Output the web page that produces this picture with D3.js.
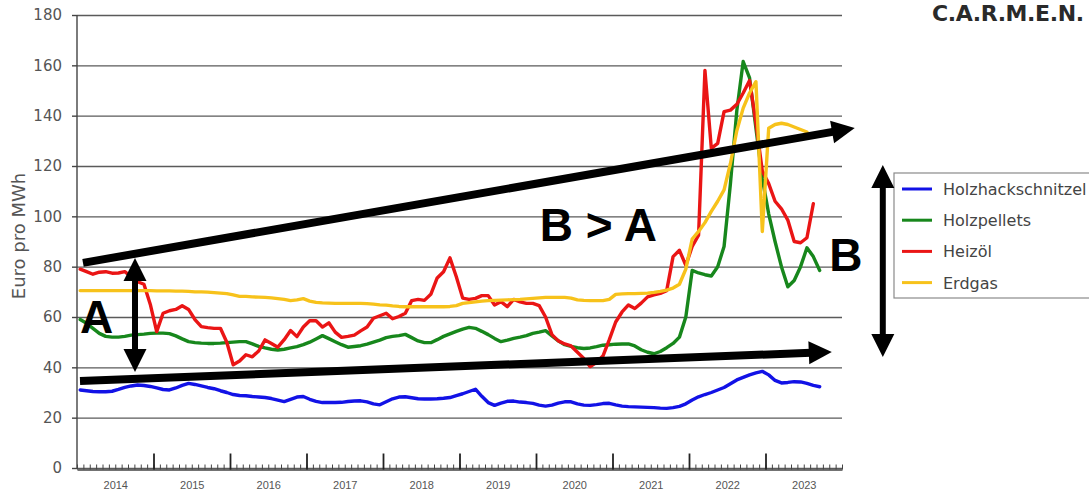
<!DOCTYPE html>
<html>
<head>
<meta charset="utf-8">
<script src="https://cdn.jsdelivr.net/npm/d3@7"></script>
<style>
  body { margin: 0; background: #fff; }
  svg { display: block; font-family: "DejaVu Sans", sans-serif; }
</style>
</head>
<body>
<svg id="chart" width="1089" height="491"></svg>
<script>
// monthly prices in Euro pro MWh, first value = Jan 2014
const hackschnitzel = [31,30.7,30.4,30.3,30.3,30.5,31.2,32,32.6,33,
  32.8,32.4,31.8,31.2,31,31.8,32.8,33.6,33.2,32.6,
  32,31.5,30.7,30,29.2,28.8,28.7,28.4,28.2,28,
  27.6,27,26.4,27.3,28.2,28.4,27.3,26.5,26,26,
  26,26.1,26.4,26.6,26.7,26.3,25.5,25.1,26.3,27.5,
  28.2,28.3,27.9,27.5,27.4,27.4,27.5,27.7,28,28.8,
  29.5,30.4,31.3,28.5,26,24.9,25.8,26.5,26.6,26.2,
  26,25.7,25,24.6,25,25.8,26.3,26.3,25.5,25,
  24.9,25.2,25.6,25.7,25.1,24.6,24.4,24.3,24.2,24.1,
  24,23.8,23.7,24,24.5,25.5,27,28.3,29.2,30,
  31,32,33.5,35,36,37,37.8,38.4,37,34.8,
  33.8,34,34.3,34.2,33.6,32.8,32.3];
const pellets = [59,57.5,55.5,53.5,52.3,52,52,52.3,52.8,53,
  53.2,53.5,53.6,53.6,53.4,52.5,51.3,50.2,49.8,49.6,
  49.5,49.5,49.6,49.8,50,50.2,50.2,49.3,48.3,47.7,
  47.2,46.9,47.2,47.7,48.2,49,50,51.3,52.6,51.4,
  50.2,49,48,48.3,48.6,49.2,50,50.8,51.8,52.3,
  52.6,53.1,51.8,50.5,49.8,49.8,51,52.3,53.3,54.3,
  55.2,55.9,55.5,54.3,53,51.5,50.2,50.8,51.5,52,
  52.6,53.5,54,54.6,52.5,50.5,49,48.3,47.8,47.5,
  47.7,48.2,48.8,49,49.2,49.3,49.3,48.5,47,46,
  45.4,46.3,47.8,49.5,52,60,78.5,77.5,76.8,76.3,
  80,88,113,142,161.5,155,135,115,101,90,
  80,72,74.5,80,87.5,84,78.5];
const heizoel = [79,78,77,77.8,78,77.4,77.5,78,76,74,
  73,65,54.2,61.5,62.5,63,64.5,63,59,56.2,
  55.8,55.5,55.5,50,41,42.5,45,44.2,46.5,50.9,
  49.5,48,51,54.6,52.2,56,58.5,58.5,56,57.7,
  54,51.9,52.3,52.8,54.5,56,59.5,60.5,61.5,59.3,
  60.2,61.5,66.5,67,66.6,69,75.5,78,83.5,76,
  67.5,67,67.4,68.5,68.5,64.8,66.1,64.1,67,66,
  65.4,65.4,64.5,60,53,50.5,49.3,48.5,46,43.5,
  40.3,42,44.5,51,58,62,64.8,63.4,65.5,68,
  68.8,69.4,70.5,84,86.5,80.5,88,92.5,158,127,
  129,141.6,142.2,144.5,149,154,137,118,113,106,
  103,98.5,90,89.5,91.5,105];
const erdgas = [70.5,70.5,70.5,70.5,70.5,70.5,70.5,70.5,70.5,70.5,
  70.5,70.5,70.4,70.4,70.4,70.3,70.3,70.2,70,70,
  69.9,69.7,69.5,69.3,68.8,68.2,68.2,68,67.9,67.8,
  67.6,67.3,67,66.5,66.8,67.3,66.3,65.8,65.6,65.5,
  65.4,65.4,65.4,65.4,65.4,65.3,65.1,64.8,64.7,64.4,
  64.2,64.1,64.1,64.1,64.1,64.1,64.1,64.1,64.2,64.5,
  65.4,65.7,66,66.3,66.5,66.6,66.7,66.8,66.9,67,
  67.2,67.4,67.6,67.8,67.8,67.8,67.8,67.5,66.8,66.6,
  66.5,66.5,66.5,67,69,69.2,69.3,69.3,69.4,69.5,
  69.8,70.2,70.7,71.5,73,79,91,94,97.5,102,
  106,110.5,121,134,143,149,153.5,94,135,136.5,
  137,136.5,135.5,134.5,133.5];

const seriesNames = ["Holzhackschnitzel", "Holzpellets", "Heizöl", "Erdgas"];
const seriesColors = ["#1212e6", "#17871c", "#ea1515", "#f7c21b"];
const years = d3.range(2014, 2024);
const yTicks = d3.range(0, 181, 20);

// annotations, in (month index, Euro pro MWh)
const trendLines = [
  { from: [0.94, 81.5], to: [122.0, 135.1] },
  { from: [0.47, 34.6], to: [118.4, 46.1] }
];
const spanArrows = [
  { m: 9.1, top: 83.4, bottom: 38.1 },
  { m: 126.4, top: 120.4, bottom: 44.1 }
];
const notes = [
  { text: "A", m: 0.47, v: 53.6 },
  { text: "B > A", m: 72.6, v: 90.2 },
  { text: "B", m: 118, v: 78.3 }
];

const svg = d3.select("#chart");
const x = d3.scaleLinear().domain([0, 120]).range([77, 842]);
const y = d3.scaleLinear().domain([0, 180]).range([468, 15]);

// grid
const grid = svg.append("g").attr("transform", "translate(77,0)")
  .call(d3.axisLeft(y).tickValues(yTicks).tickSizeInner(-765).tickSizeOuter(0).tickFormat(""));
grid.select(".domain").remove();
grid.selectAll("line").attr("stroke", "#5a5a5a").attr("stroke-width", 1.4);

// y axis with labels
const yAx = svg.append("g").attr("transform", "translate(77,0)")
  .call(d3.axisLeft(y).tickValues(yTicks).tickSizeInner(5).tickSizeOuter(0).tickPadding(10));
yAx.select(".domain").attr("stroke", "#444").attr("stroke-width", 1.4).attr("d", "M0,15V469");
yAx.selectAll("line").attr("stroke", "#444").attr("stroke-width", 1.4);
yAx.selectAll("text").attr("fill", "#555").style("font-size", "15px")
  .style("font-family", "'DejaVu Sans', sans-serif");

svg.append("text")
  .attr("transform", "translate(25,236) rotate(-90)")
  .attr("text-anchor", "middle")
  .attr("fill", "#555")
  .style("font-size", "18px")
  .text("Euro pro MWh");

// x axis: monthly minor ticks, yearly major ticks, year labels in the middle
const xMinor = svg.append("g").attr("transform", "translate(0,469.5)")
  .call(d3.axisBottom(x).tickValues(d3.range(0, 121)).tickSizeInner(-5).tickSizeOuter(0).tickFormat(""));
xMinor.select(".domain").attr("stroke", "#444").attr("stroke-width", 1.4);
xMinor.selectAll("line").attr("stroke", "#444").attr("stroke-width", 1);

const xMajor = svg.append("g").attr("transform", "translate(0,469.5)")
  .call(d3.axisBottom(x).tickValues(d3.range(12, 120, 12)).tickSizeInner(-16).tickSizeOuter(0).tickFormat(""));
xMajor.select(".domain").remove();
xMajor.selectAll("line").attr("stroke", "#222").attr("stroke-width", 1.8);

const xLab = svg.append("g").attr("transform", "translate(0,469.5)")
  .call(d3.axisBottom(x).tickValues(years.map((yr, i) => i * 12 + 6))
    .tickSize(0).tickPadding(12).tickFormat((d, i) => years[i]));
xLab.select(".domain").remove();
xLab.selectAll("text").attr("fill", "#555").style("font-size", "11px")
  .style("font-family", "'Liberation Sans', sans-serif");

// series
const allSeries = [hackschnitzel, pellets, heizoel, erdgas];
const line = d3.line().x((d, i) => x(i + 0.5)).y(d => y(d));
allSeries.forEach((vals, k) => {
  svg.append("path")
    .attr("d", line(vals))
    .attr("fill", "none")
    .attr("stroke", seriesColors[k])
    .attr("stroke-width", 3.4)
    .attr("stroke-linejoin", "round")
    .attr("stroke-linecap", "round");
});

// legend
const lg = svg.append("g");
lg.append("rect").attr("x", 894).attr("y", 173).attr("width", 210).attr("height", 125)
  .attr("fill", "#fff").attr("stroke", "#8a8a8a").attr("stroke-width", 1.2);
seriesNames.forEach((name, k) => {
  const ry = 189 + k * 31.2;
  lg.append("line").attr("x1", 902).attr("x2", 932).attr("y1", ry).attr("y2", ry)
    .attr("stroke", seriesColors[k]).attr("stroke-width", 3);
  lg.append("text").attr("x", 943).attr("y", ry + 6).attr("fill", "#444")
    .style("font-size", "16px").text(name);
});

// logo
svg.append("text").attr("x", 932).attr("y", 21).attr("fill", "#2a2a2a")
  .style("font-size", "22px").style("font-weight", "bold")
  .style("letter-spacing", "-0.4px").text("C.A.R.M.E.N.");

// annotations
const ann = svg.append("g");
function head(tip, dir, len, half) {
  const bx = tip[0] - dir[0] * len, by = tip[1] - dir[1] * len;
  const nx = -dir[1], ny = dir[0];
  return [[tip[0], tip[1]], [bx + nx * half, by + ny * half], [bx - nx * half, by - ny * half]];
}
function arrow(p0, p1, w, both) {
  const dx = p1[0] - p0[0], dy = p1[1] - p0[1];
  const L = Math.hypot(dx, dy);
  const dir = [dx / L, dy / L];
  const hl = 23;
  const s = both ? [p0[0] + dir[0] * (hl - 2), p0[1] + dir[1] * (hl - 2)] : p0;
  const e = [p1[0] - dir[0] * (hl - 2), p1[1] - dir[1] * (hl - 2)];
  ann.append("line").attr("x1", s[0]).attr("y1", s[1]).attr("x2", e[0]).attr("y2", e[1])
    .attr("stroke", "#000").attr("stroke-width", w);
  ann.append("polygon").attr("points", head(p1, dir, hl, 11.5).join(" ")).attr("fill", "#000");
  if (both) {
    ann.append("polygon").attr("points", head(p0, [-dir[0], -dir[1]], hl, 11.5).join(" ")).attr("fill", "#000");
  }
}
trendLines.forEach(t => arrow([x(t.from[0]), y(t.from[1])], [x(t.to[0]), y(t.to[1])], 8, false));
spanArrows.forEach(a => arrow([x(a.m), y(a.top)], [x(a.m), y(a.bottom)], 6, true));
notes.forEach(n => {
  ann.append("text").attr("x", x(n.m)).attr("y", y(n.v))
    .attr("fill", "#000")
    .style("font-family", "'Liberation Sans', Arial, sans-serif")
    .style("font-weight", "bold")
    .style("font-size", "46px")
    .text(n.text);
});
</script>
</body>
</html>
